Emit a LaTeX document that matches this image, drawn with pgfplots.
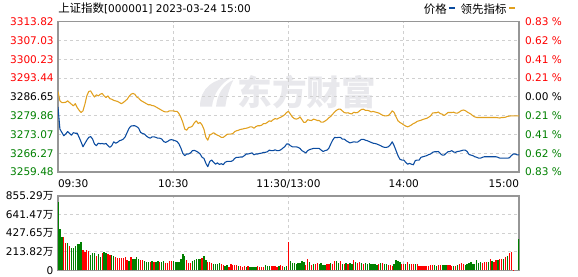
\documentclass[border=0pt]{standalone}
\usepackage{pgfplots}
\pgfplotsset{compat=1.18}
\usepackage{fontspec}
\setmainfont{DejaVu Sans}
\newfontfamily\cjk{Noto Sans CJK SC}
\definecolor{pblue}{RGB}{10,75,160}
\definecolor{porange}{RGB}{225,160,30}
\definecolor{ured}{RGB}{255,0,0}
\definecolor{dgreen}{RGB}{0,128,0}
\definecolor{gridc}{RGB}{208,208,208}
\definecolor{framec}{RGB}{150,150,150}
\definecolor{wm}{RGB}{232,232,236}
\begin{document}
\begin{tikzpicture}
\useasboundingbox (0,0) rectangle (433.5pt,-207pt);
% watermark emblem and text
\fill[wm] (150pt,-80pt) .. controls (150pt,-66pt) and (160pt,-59pt) .. (174pt,-58pt) .. controls (166pt,-62pt) and (160pt,-70pt) .. (159pt,-80pt) -- cycle;
\fill[wm] (162pt,-80pt) .. controls (163pt,-70pt) and (168pt,-63pt) .. (175pt,-60pt) .. controls (172pt,-66pt) and (170pt,-73pt) .. (169pt,-80pt) -- cycle;
\node[text=wm, font=\cjk\bfseries\fontsize{26}{26}\selectfont, anchor=center, inner sep=0pt] at (230pt,-69pt) {东方财富};
\node[anchor=west, inner sep=0pt] at (43.5pt,-6.6pt) {\fontsize{7.9}{8}\selectfont{\cjk\fontsize{8.6}{9}\selectfont 上证指数}[000001] 2023-03-24 15:00};
\node[anchor=east, inner sep=0pt] at (386.5pt,-6.6pt) {\cjk\fontsize{8.6}{9}\selectfont 价格\ \textcolor{pblue}{\rule[3pt]{4.5pt}{1.8pt}}\ \ 领先指标\ \textcolor{porange}{\rule[3pt]{4.5pt}{1.8pt}}};
\pgfplotsset{
  chartbase/.style={
    scale only axis, width=345.75pt, anchor=north west,
    xmin=0, xmax=240,
    major tick length=0pt,
    tick label style={font=\fontsize{7.9}{8}\selectfont},
  }
}
% price panel
\begin{axis}[chartbase,
  at={(43.5pt,-16.3pt)}, height=112.7pt,
  ymin=3259.48, ymax=3313.82,
  xtick={0,60,120,180,240},
  xticklabels={\rlap{09:30},10:30,11:30/13:00,14:00,\llap{15:00}},
  xticklabel style={yshift=-2.2pt},
  ytick={3259.48,3266.27,3273.07,3279.86,3286.65,3293.44,3300.23,3307.03,3313.82},
  yticklabels={\color{dgreen}3259.48,\color{dgreen}3266.27,\color{dgreen}3273.07,\color{dgreen}3279.86,\color{black}3286.65,\color{ured}3293.44,\color{ured}3300.23,\color{ured}3307.03,\color{ured}3313.82},
  yticklabel style={xshift=0.3pt},
  grid=major,
  major grid style={gridc, line width=0.75pt, dash pattern=on 2.4pt off 2.1pt},
  axis line style={framec, line width=0.9pt},
]
\addplot[porange, line width=0.8pt, line join=round, mark=none] coordinates {
(0,3288.6)(1,3285.2)(2,3284.6)(3,3284.6)(4,3284.7)(5,3285.2)(6,3284.6)(7,3284.0)(8,3283.4)(9,3284.2)(10,3282.8)(11,3281.8)(12,3281.0)(13,3281.6)(14,3284.0)(15,3287.0)(16,3288.6)(17,3288.8)(18,3287.6)(19,3286.6)(20,3287.4)(21,3287.0)(22,3287.6)(23,3287.9)(24,3287.0)(25,3286.4)(26,3287.0)(27,3286.0)(28,3285.8)(29,3285.4)(30,3285.2)(31,3285.0)(32,3284.6)(33,3284.2)(34,3284.6)(35,3285.2)(36,3285.8)(37,3286.8)(38,3287.6)(39,3287.9)(40,3287.6)(41,3286.6)(42,3286.2)(43,3285.4)(44,3285.0)(45,3284.6)(46,3284.2)(47,3283.8)(48,3283.8)(49,3283.5)(50,3283.4)(51,3283.0)(52,3282.6)(53,3282.2)(54,3281.8)(55,3281.4)(56,3281.2)(57,3281.2)(58,3281.6)(59,3281.6)(60,3281.6)(61,3281.4)(62,3281.4)(63,3280.6)(64,3279.2)(65,3277.4)(66,3275.0)(67,3274.6)(68,3275.6)(69,3275.7)(70,3276.1)(71,3277.3)(72,3278.0)(73,3277.0)(74,3277.4)(75,3276.5)(76,3274.9)(77,3272.0)(78,3271.0)(79,3272.9)(80,3273.2)(81,3273.7)(82,3273.2)(83,3272.8)(84,3272.5)(85,3272.0)(86,3272.0)(87,3272.5)(88,3273.1)(89,3273.2)(90,3273.2)(91,3273.4)(92,3274.1)(93,3274.4)(94,3274.6)(95,3274.9)(96,3275.0)(97,3275.2)(98,3275.3)(99,3275.5)(100,3275.8)(101,3275.8)(102,3275.3)(103,3275.9)(104,3276.2)(105,3276.2)(106,3276.4)(107,3277.0)(108,3277.0)(109,3277.4)(110,3278.0)(111,3277.8)(112,3278.4)(113,3278.8)(114,3278.6)(115,3279.0)(116,3279.3)(117,3279.7)(118,3280.2)(119,3281.0)(120,3281.4)(121,3280.4)(122,3279.4)(123,3278.8)(124,3278.6)(125,3278.8)(126,3279.4)(127,3278.4)(128,3277.4)(129,3277.5)(130,3278.4)(131,3278.2)(132,3278.1)(133,3278.6)(134,3278.4)(135,3278.1)(136,3278.1)(137,3277.5)(138,3277.5)(139,3277.9)(140,3278.4)(141,3279.1)(142,3279.6)(143,3280.4)(144,3281.2)(145,3281.8)(146,3282.2)(147,3282.2)(148,3281.6)(149,3281.0)(150,3280.8)(151,3280.9)(152,3280.6)(153,3280.5)(154,3281.1)(155,3280.9)(156,3281.0)(157,3281.6)(158,3282.1)(159,3282.2)(160,3281.8)(161,3281.8)(162,3281.6)(163,3281.2)(164,3281.4)(165,3281.2)(166,3281.0)(167,3280.8)(168,3280.4)(169,3280.0)(170,3279.8)(171,3279.8)(172,3279.9)(173,3280.6)(174,3281.6)(175,3281.0)(176,3279.4)(177,3278.0)(178,3277.4)(179,3277.0)(180,3276.5)(181,3276.1)(182,3275.8)(183,3276.1)(184,3276.5)(185,3277.0)(186,3277.3)(187,3277.8)(188,3278.0)(189,3278.2)(190,3278.5)(191,3278.7)(192,3278.9)(193,3279.3)(194,3279.8)(195,3280.8)(196,3280.9)(197,3280.9)(198,3281.2)(199,3280.6)(200,3280.4)(201,3279.9)(202,3280.4)(203,3281.0)(204,3281.0)(205,3281.0)(206,3281.1)(207,3280.8)(208,3280.8)(209,3281.2)(210,3281.7)(211,3281.9)(212,3281.7)(213,3281.2)(214,3280.8)(215,3280.4)(216,3279.8)(217,3279.4)(218,3279.2)(219,3279.2)(220,3279.2)(221,3279.2)(222,3279.2)(223,3279.2)(224,3279.2)(225,3279.2)(226,3279.2)(227,3279.2)(228,3279.2)(229,3279.1)(230,3279.0)(231,3279.2)(232,3279.2)(233,3279.3)(234,3279.6)(235,3279.7)(236,3279.8)(237,3279.8)(238,3279.8)(239,3279.8)(240,3279.8)
};
\addplot[pblue, line width=0.8pt, line join=round, mark=none] coordinates {
(0,3283.0)(1,3275.0)(2,3273.8)(3,3272.6)(4,3273.2)(5,3274.1)(6,3273.4)(7,3272.8)(8,3273.7)(9,3273.5)(10,3273.5)(11,3272.0)(12,3270.4)(13,3268.6)(14,3269.8)(15,3271.0)(16,3272.0)(17,3272.3)(18,3271.4)(19,3269.6)(20,3269.0)(21,3269.9)(22,3269.7)(23,3269.8)(24,3269.6)(25,3269.8)(26,3269.0)(27,3268.4)(28,3269.0)(29,3270.4)(30,3269.9)(31,3270.2)(32,3270.8)(33,3271.0)(34,3271.4)(35,3272.2)(36,3273.8)(37,3275.3)(38,3276.1)(39,3276.2)(40,3276.2)(41,3275.9)(42,3275.3)(43,3273.8)(44,3273.4)(45,3273.2)(46,3272.5)(47,3272.0)(48,3271.7)(49,3272.2)(50,3272.2)(51,3272.0)(52,3271.7)(53,3271.7)(54,3271.4)(55,3270.5)(56,3270.2)(57,3270.5)(58,3271.0)(59,3271.2)(60,3271.0)(61,3270.8)(62,3270.5)(63,3269.6)(64,3268.1)(65,3266.2)(66,3265.4)(67,3266.0)(68,3266.0)(69,3266.4)(70,3267.2)(71,3267.3)(72,3267.0)(73,3266.6)(74,3266.0)(75,3264.8)(76,3264.4)(77,3262.6)(78,3261.4)(79,3263.3)(80,3263.8)(81,3263.0)(82,3262.3)(83,3262.8)(84,3262.2)(85,3262.5)(86,3262.1)(87,3263.0)(88,3263.3)(89,3263.3)(90,3263.3)(91,3263.6)(92,3264.4)(93,3264.8)(94,3264.8)(95,3264.9)(96,3264.9)(97,3265.4)(98,3266.0)(99,3266.0)(100,3266.2)(101,3266.4)(102,3265.7)(103,3266.0)(104,3266.0)(105,3266.2)(106,3266.3)(107,3266.6)(108,3266.6)(109,3266.8)(110,3267.4)(111,3267.2)(112,3267.2)(113,3267.5)(114,3267.2)(115,3267.2)(116,3267.5)(117,3268.1)(118,3268.6)(119,3269.6)(120,3269.6)(121,3269.0)(122,3268.6)(123,3268.6)(124,3268.6)(125,3268.4)(126,3268.0)(127,3267.2)(128,3266.8)(129,3266.4)(130,3267.2)(131,3267.6)(132,3267.8)(133,3268.0)(134,3268.0)(135,3268.0)(136,3268.0)(137,3267.4)(138,3266.9)(139,3267.2)(140,3267.4)(141,3268.1)(142,3269.6)(143,3271.0)(144,3272.0)(145,3271.9)(146,3272.0)(147,3272.0)(148,3271.4)(149,3271.4)(150,3270.8)(151,3270.4)(152,3270.0)(153,3270.2)(154,3270.4)(155,3270.3)(156,3270.3)(157,3270.8)(158,3271.3)(159,3271.3)(160,3271.0)(161,3270.8)(162,3270.5)(163,3270.2)(164,3269.9)(165,3269.8)(166,3269.6)(167,3269.3)(168,3269.0)(169,3268.6)(170,3268.4)(171,3268.4)(172,3268.6)(173,3269.3)(174,3270.4)(175,3269.0)(176,3267.2)(177,3265.4)(178,3264.1)(179,3263.8)(180,3263.8)(181,3263.0)(182,3262.3)(183,3262.6)(184,3262.3)(185,3262.1)(186,3263.6)(187,3263.8)(188,3263.8)(189,3264.8)(190,3265.0)(191,3265.2)(192,3265.4)(193,3265.8)(194,3266.0)(195,3266.6)(196,3266.8)(197,3266.8)(198,3266.9)(199,3266.2)(200,3265.6)(201,3265.6)(202,3266.2)(203,3266.8)(204,3266.9)(205,3267.2)(206,3266.7)(207,3266.6)(208,3266.9)(209,3267.0)(210,3267.2)(211,3267.4)(212,3267.4)(213,3266.9)(214,3265.8)(215,3265.6)(216,3265.4)(217,3265.0)(218,3264.8)(219,3264.5)(220,3264.5)(221,3264.8)(222,3265.0)(223,3265.0)(224,3265.0)(225,3265.0)(226,3265.0)(227,3265.0)(228,3265.0)(229,3264.8)(230,3264.5)(231,3264.5)(232,3264.5)(233,3264.5)(234,3264.5)(235,3264.6)(236,3265.4)(237,3266.0)(238,3266.0)(239,3265.7)(240,3265.65)
};
\end{axis}
% right-hand percentage labels
\begin{axis}[chartbase,
  at={(43.5pt,-16.3pt)}, height=112.7pt,
  ymin=3259.48, ymax=3313.82,
  xtick=\empty,
  axis line style={draw=none},
  yticklabel pos=right,
  ytick={3259.48,3266.27,3273.07,3279.86,3286.65,3293.44,3300.23,3307.03,3313.82},
  yticklabels={\color{dgreen}0.83 \%,\color{dgreen}0.62 \%,\color{dgreen}0.41 \%,\color{dgreen}0.21 \%,\color{black}0.00 \%,\color{ured}0.21 \%,\color{ured}0.41 \%,\color{ured}0.62 \%,\color{ured}0.83 \%},
  yticklabel style={xshift=1pt},
]
\addplot[draw=none] coordinates {(0,3286.65)};
\end{axis}
% volume panel
\begin{axis}[chartbase,
  at={(43.5pt,-147pt)}, height=55.7pt,
  ymin=0, ymax=855.29,
  xtick={0,60,120,180,240}, xticklabels={},
  ytick={0,213.82,427.65,641.47,855.29},
  yticklabels={0,213.82{\cjk 万},427.65{\cjk 万},641.47{\cjk 万},855.29{\cjk 万}},
  grid=major,
  major grid style={gridc, line width=0.75pt, dash pattern=on 2.4pt off 2.1pt},
  axis line style={framec, line width=0.9pt},
]
\addplot[ycomb, ured, line width=1pt, mark=none] coordinates {
(3,378)(4,316)(6,285)(13,231)(14,212)(15,231)(16,223)(20,170)(23,197)(26,193)(27,181)(30,154)(31,143)(32,139)(33,139)(34,139)(35,154)(36,123)(38,154)(43,116)(44,123)(48,96)(50,92)(53,92)(56,85)(57,89)(58,104)(59,108)(67,116)(68,85)(69,89)(75,143)(78,96)(79,96)(80,89)(85,77)(86,58)(89,39)(90,69)(91,58)(92,58)(93,58)(95,54)(96,39)(97,46)(99,46)(104,46)(105,35)(106,39)(107,39)(111,46)(112,54)(113,46)(114,35)(116,62)(117,46)(120,320)(129,58)(130,127)(132,58)(134,69)(135,81)(140,69)(141,69)(143,69)(144,104)(147,104)(149,69)(151,69)(154,116)(156,81)(157,92)(159,69)(167,69)(169,81)(172,58)(173,58)(174,46)(179,69)(180,69)(182,92)(184,69)(185,69)(187,69)(188,46)(189,46)(190,46)(191,46)(192,46)(193,46)(194,58)(195,58)(198,58)(199,58)(203,58)(204,58)(205,46)(207,46)(209,69)(210,81)(211,69)(221,81)(222,92)(223,92)(225,127)(227,92)(228,116)(230,127)(231,127)(233,150)(235,197)(236,208)(237,8)
};
\addplot[ycomb, dgreen, line width=1pt, mark=none] coordinates {
(0,790)(1,474)(2,381)(5,312)(7,258)(8,258)(9,281)(10,297)(11,308)(12,324)(17,173)(18,197)(19,197)(21,193)(22,154)(24,208)(25,200)(28,173)(29,166)(37,108)(39,131)(40,131)(41,154)(42,135)(45,108)(46,96)(47,96)(49,108)(51,96)(52,104)(54,92)(55,104)(60,104)(61,96)(62,96)(63,96)(64,135)(65,185)(66,162)(70,108)(71,116)(72,127)(73,127)(74,131)(76,162)(77,116)(81,69)(82,69)(83,73)(84,81)(87,46)(88,58)(94,46)(98,39)(100,35)(101,35)(102,35)(103,35)(108,58)(109,50)(110,50)(115,54)(118,42)(119,46)(121,104)(122,81)(123,81)(124,73)(125,81)(126,81)(127,104)(128,96)(131,92)(133,69)(136,69)(137,81)(138,58)(139,58)(142,81)(145,104)(146,81)(148,69)(150,81)(152,81)(153,69)(155,92)(158,81)(160,81)(161,69)(162,81)(163,69)(164,69)(165,69)(166,58)(168,81)(170,69)(171,69)(175,69)(176,116)(177,104)(178,92)(181,69)(183,69)(186,69)(196,58)(197,46)(200,58)(201,58)(202,58)(206,46)(208,58)(212,58)(213,69)(214,81)(215,92)(216,69)(217,69)(218,116)(219,81)(220,92)(224,92)(226,104)(229,116)(232,127)(234,162)(240,358)
};
\end{axis}
\end{tikzpicture}
\end{document}
